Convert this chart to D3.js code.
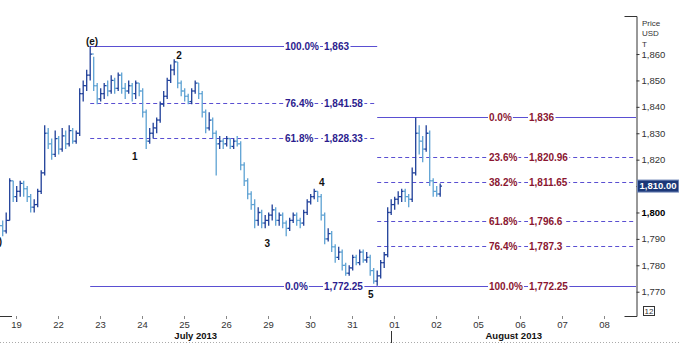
<!DOCTYPE html>
<html>
<head>
<meta charset="utf-8">
<script src="https://cdn.jsdelivr.net/npm/d3@7"></script>
<style>
  body { margin: 0; background: #fff; overflow: hidden; }
  svg { display: block; font-family: "Liberation Sans", Arial, sans-serif; }
  .narrow { font-family: "Liberation Sans Narrow", "Arial Narrow", "Liberation Sans", sans-serif; }
</style>
</head>
<body>
<svg id="chart" width="679" height="343"></svg>
<script>
// trading days shown on the time axis
const dayLabels = ["19", "22", "23", "24", "25", "26", "29", "30", "31", "01", "02", "05", "06", "07", "08"];
const months = ["July 2013", "August 2013"];
const monthStartDay = 9; // index of "01"

// intraday bars, 12 per trading day, first one on the afternoon of 18 Jul
const barStart = -0.4;
const barsPerDay = 12;
const firstOpen = 1796;
const closes = [
  1795, 1793, 1797, 1812, 1806, 1808, 1811, 1809, 1806, 1802, 1803, 1808,
  1815, 1830, 1826, 1822, 1828, 1824, 1829, 1826, 1831, 1827, 1830, 1845,
  1848, 1852, 1860, 1848, 1843, 1845, 1848, 1846, 1850, 1847, 1852, 1847,
  1846, 1848, 1845, 1849, 1846, 1838, 1827, 1830, 1832, 1835, 1841, 1844,
  1850, 1854, 1857, 1849, 1846, 1844, 1842, 1846, 1849, 1845, 1838, 1832,
  1835, 1830, 1826, 1827, 1826, 1828, 1825, 1827, 1826, 1818, 1812, 1807,
  1803, 1797, 1800, 1796, 1797, 1799, 1801, 1797, 1799, 1796, 1794, 1797,
  1799, 1797, 1796, 1800, 1804, 1806, 1808, 1806, 1799, 1790, 1792, 1787,
  1783, 1785, 1780, 1777, 1779, 1783, 1781, 1785, 1782, 1783, 1778, 1774,
  1776, 1781, 1784, 1800, 1803, 1805, 1806, 1808, 1806, 1805, 1815, 1830,
  1827, 1824, 1830, 1812, 1808, 1807, 1810
];
const highs = [
  1798, 1797, 1800, 1813, 1812, 1810, 1812, 1812, 1810, 1807, 1805, 1809,
  1816, 1833, 1832, 1828, 1831, 1829, 1832, 1831, 1833, 1832, 1831, 1847,
  1850, 1854, 1863, 1859, 1849, 1847, 1849, 1850, 1852, 1851, 1853, 1853,
  1849, 1850, 1849, 1850, 1849, 1847, 1839, 1832, 1834, 1836, 1842, 1846,
  1851, 1856, 1858, 1857, 1850, 1847, 1845, 1847, 1850, 1849, 1846, 1839,
  1838, 1836, 1831, 1829, 1828, 1829, 1828, 1828, 1829, 1827, 1819, 1813,
  1808, 1805, 1802, 1801, 1799, 1800, 1803, 1802, 1800, 1800, 1797, 1798,
  1800, 1800, 1798, 1801, 1805, 1807, 1809, 1808, 1807, 1800, 1794, 1793,
  1788, 1787, 1786, 1781, 1780, 1784, 1784, 1786, 1786, 1785, 1784, 1779,
  1778, 1782, 1785, 1802, 1805, 1806, 1808, 1809, 1809, 1807, 1817, 1836,
  1833, 1829, 1833, 1831, 1813, 1810, 1811
];
const lows = [
  1792, 1791, 1792, 1797, 1804, 1804, 1806, 1806, 1804, 1800, 1800, 1802,
  1807, 1814, 1824, 1820, 1821, 1822, 1823, 1824, 1825, 1826, 1826, 1829,
  1842, 1846, 1850, 1846, 1841, 1842, 1843, 1844, 1845, 1845, 1846, 1845,
  1843, 1845, 1842, 1843, 1844, 1836, 1824, 1826, 1828, 1830, 1834, 1840,
  1843, 1849, 1852, 1847, 1844, 1842, 1841, 1841, 1845, 1843, 1836, 1830,
  1831, 1828, 1814, 1824, 1824, 1825, 1824, 1824, 1825, 1816, 1810, 1805,
  1801, 1794, 1795, 1794, 1794, 1795, 1797, 1795, 1795, 1794, 1791, 1793,
  1796, 1795, 1794, 1795, 1799, 1803, 1805, 1804, 1797, 1788, 1789, 1785,
  1781, 1782, 1778, 1776, 1776, 1778, 1780, 1780, 1781, 1781, 1776, 1773,
  1772.25, 1775, 1779, 1783, 1799, 1801, 1803, 1804, 1804, 1802, 1804, 1814,
  1822, 1819, 1823, 1810, 1806, 1806, 1806
];
const lastPrice = 1810.00;

// price axis
const yTicks = [1770, 1780, 1790, 1800, 1810, 1820, 1830, 1840, 1850, 1860];

// Fibonacci retracements (blue: swing (e) -> 5, red: swing 5 -> latest high)
const fib1From = 26, fib1To = 108;
const fib1Pct = ["100.0%", "76.4%", "61.8%", "0.0%"];
const fib1Val = [1863, 1841.58, 1828.33, 1772.25];
const fib2From = 108;
const fib2Pct = ["0.0%", "23.6%", "38.2%", "61.8%", "76.4%", "100.0%"];
const fib2Val = [1836, 1820.96, 1811.65, 1796.6, 1787.3, 1772.25];

// Elliott wave counts (day index, price)
const waveText = ["(d)", "(e)", "1", "2", "3", "4", "5"];
const waveDay = [-0.33, 1.81, 2.83, 3.88, 5.98, 7.28, 8.45];
const wavePrice = [1789.2, 1864.9, 1821.2, 1859.3, 1788.4, 1811.4, 1769.1];

const W = 679, H = 343;
const plotLeft = 0, plotRight = 636, plotTop = 16, plotBottom = 316;

const svg = d3.select("#chart");

const x = d3.scaleLinear().domain([0, dayLabels.length - 1]).range([16, 604]);
const y = d3.scaleLinear().domain([1760.8, 1874.4]).range([plotBottom, plotTop]);

const barDay = i => barStart + i / barsPerDay;

const bars = closes.map((c, i) => ({
  t: barDay(i),
  open: i === 0 ? firstOpen : closes[i - 1],
  high: highs[i],
  low: lows[i],
  close: c
}));

// Fibonacci levels
const fibLine = "#5a4fd2";
function drawFib(pcts, vals, x0, x1, textColor, pctX, valX) {
  const g = svg.append("g");
  vals.forEach((v, i) => {
    const solid = i === 0 || i === vals.length - 1;
    g.append("line")
      .attr("x1", x0).attr("x2", x1)
      .attr("y1", Math.round(y(v)) + 0.5).attr("y2", Math.round(y(v)) + 0.5)
      .attr("stroke", fibLine)
      .attr("stroke-width", 1)
      .attr("stroke-dasharray", solid ? null : "4,3");
  });
  vals.forEach((v, i) => {
    [[pctX, pcts[i]], [valX, d3.format(",")(v)]].forEach(([tx, str]) => {
      const t = g.append("text")
        .attr("x", tx)
        .attr("y", Math.round(y(v)) + 0.5)
        .attr("dy", "0.35em")
        .attr("font-size", 10)
        .attr("font-weight", "bold")
        .attr("fill", textColor)
        .text(str);
      const b = t.node().getBBox();
      g.insert("rect", () => t.node())
        .attr("x", b.x - 1).attr("y", b.y + 1)
        .attr("width", b.width + 2).attr("height", b.height - 2)
        .attr("fill", "#fff");
    });
  });
}
drawFib(fib1Pct, fib1Val, x(barDay(fib1From)), x(barDay(fib1To)), "#2b1c8e", 285, 324);
drawFib(fib2Pct, fib2Val, x(barDay(fib2From)), plotRight, "#8a1631", 489, 529);

// OHLC bars
const gBars = svg.append("g");
const barG = gBars.selectAll("g")
  .data(bars)
  .enter()
  .append("g")
  .attr("stroke", d => d.close >= d.open ? "#1f3f99" : "#5ea2d3")
  .attr("stroke-width", 1.3);

barG.append("line")
  .attr("x1", d => x(d.t)).attr("x2", d => x(d.t))
  .attr("y1", d => y(d.high)).attr("y2", d => y(d.low));
barG.append("line")
  .attr("x1", d => x(d.t) - 1.8).attr("x2", d => x(d.t))
  .attr("y1", d => y(d.open)).attr("y2", d => y(d.open));
barG.append("line")
  .attr("x1", d => x(d.t)).attr("x2", d => x(d.t) + 1.8)
  .attr("y1", d => y(d.close)).attr("y2", d => y(d.close));

// wave labels
svg.append("g")
  .selectAll("text")
  .data(waveText)
  .enter()
  .append("text")
  .attr("x", (d, i) => x(waveDay[i]))
  .attr("y", (d, i) => y(wavePrice[i]))
  .attr("dy", "0.35em")
  .attr("text-anchor", (d, i) => i === 0 ? "end" : "middle")
  .attr("font-size", 10)
  .attr("font-weight", "bold")
  .attr("fill", "#111")
  .text(d => d);

// right price axis (the 1,810 label sits under the last price marker)
const yAxis = svg.append("g")
  .attr("class", "narrow")
  .attr("transform", `translate(${plotRight + 0.5},0)`)
  .call(d3.axisRight(y)
    .tickValues(yTicks)
    .tickSize(3)
    .tickPadding(2)
    .tickSizeOuter(-12)
    .tickFormat(d => d === Math.round(lastPrice) ? "" : d3.format(",")(d)));
yAxis.select(".domain").attr("stroke", "#333");
yAxis.selectAll(".tick line").attr("stroke", "#333");
yAxis.selectAll(".tick text")
  .attr("font-size", 9.5)
  .attr("font-family", null)
  .attr("fill", d => d === 1800 ? "#000" : "#333")
  .attr("font-weight", d => d === 1800 ? "bold" : null);

["Price", "USD", "T"].forEach((s, i) => {
  svg.append("text")
    .attr("class", "narrow")
    .attr("x", plotRight + 6)
    .attr("y", 23 + i * 10.5)
    .attr("dy", "0.35em")
    .attr("font-size", 8)
    .attr("fill", "#333")
    .text(s);
});

// last price marker
const lp = svg.append("g");
lp.append("rect")
  .attr("x", plotRight + 1.5).attr("y", y(lastPrice) - 6)
  .attr("width", 41).attr("height", 12)
  .attr("fill", "#1c3878")
  .attr("stroke", "#6f86b8");
lp.append("text")
  .attr("class", "narrow")
  .attr("x", plotRight + 22).attr("y", y(lastPrice))
  .attr("dy", "0.35em")
  .attr("text-anchor", "middle")
  .attr("font-size", 9.5)
  .attr("font-weight", "bold")
  .attr("fill", "#fff")
  .text(d3.format(",.2f")(lastPrice));

// "12" box
svg.append("rect")
  .attr("x", plotRight + 7.5).attr("y", 306.5)
  .attr("width", 11).attr("height", 9)
  .attr("fill", "none").attr("stroke", "#333");
svg.append("text")
  .attr("class", "narrow")
  .attr("x", plotRight + 13).attr("y", 311)
  .attr("dy", "0.35em")
  .attr("text-anchor", "middle")
  .attr("font-size", 8)
  .attr("fill", "#333")
  .text("12");

// time axis
const xAxis = svg.append("g")
  .attr("class", "narrow")
  .attr("transform", `translate(0,${plotBottom})`)
  .call(d3.axisBottom(x)
    .tickValues(d3.range(dayLabels.length))
    .tickSize(3)
    .tickPadding(2)
    .tickFormat(i => dayLabels[i]));
xAxis.select(".domain").remove();
xAxis.selectAll(".tick line").attr("stroke", "#888");
xAxis.selectAll(".tick text")
  .attr("font-size", 9.5)
  .attr("font-family", null)
  .attr("fill", "#333");

svg.append("line")
  .attr("x1", plotLeft).attr("x2", 12)
  .attr("y1", plotBottom + 0.5).attr("y2", plotBottom + 0.5)
  .attr("stroke", "#333");

const sepX = Math.round(x(monthStartDay)) - 2.5;
svg.append("line")
  .attr("x1", sepX).attr("x2", sepX)
  .attr("y1", 331).attr("y2", H)
  .attr("stroke", "#333");

const monthCenters = [(plotLeft + sepX) / 2, (sepX + plotRight) / 2];
months.forEach((m, i) => {
  svg.append("text")
    .attr("class", "narrow")
    .attr("x", monthCenters[i])
    .attr("y", 336)
    .attr("dy", "0.35em")
    .attr("text-anchor", "middle")
    .attr("font-size", 9.5)
    .attr("font-weight", "bold")
    .attr("fill", "#111")
    .text(m);
});

svg.append("line")
  .attr("x1", 0).attr("x2", W)
  .attr("y1", H - 0.5).attr("y2", H - 0.5)
  .attr("stroke", "#aaa")
  .attr("stroke-dasharray", "1,2");
</script>
</body>
</html>
